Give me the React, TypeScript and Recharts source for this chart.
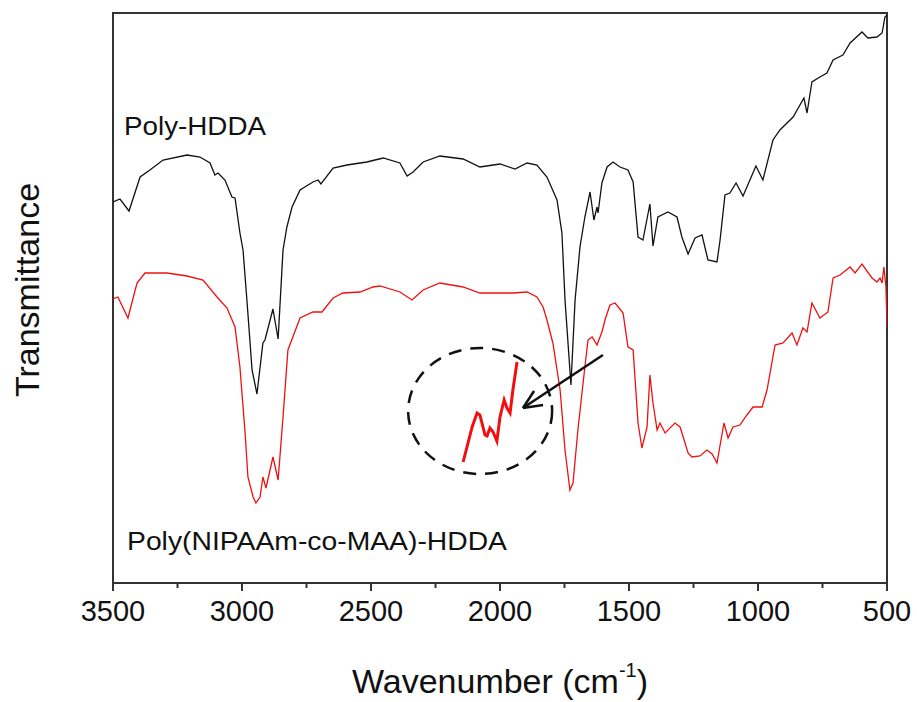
import {
  Line,
  LineChart,
  ReferenceArea,
  ReferenceDot,
  ReferenceLine,
  XAxis,
  YAxis,
} from "recharts";

// wavenumber (cm-1) and transmittance (arbitrary units)
const hddaWavenumber = [
  3500, 3473, 3438, 3395, 3357, 3306, 3213, 3163, 3124, 3105, 3093, 3066, 3039, 3027, 3008, 2996,
  2981, 2961, 2942, 2919, 2911, 2880, 2860, 2841, 2826, 2806, 2775, 2725, 2705, 2694, 2647, 2593,
  2516, 2453, 2388, 2360, 2337, 2298, 2233, 2143, 2078, 2000, 1942, 1895, 1857, 1818, 1779, 1760,
  1748, 1725, 1709, 1690, 1671, 1651, 1636, 1624, 1620, 1605, 1585, 1562, 1535, 1504, 1484, 1465,
  1446, 1419, 1407, 1388, 1349, 1314, 1295, 1271, 1244, 1217, 1194, 1159, 1147, 1128, 1109, 1085,
  1058, 1008, 981, 942, 915, 864, 822, 810, 791, 760, 733, 709, 671, 643, 597, 574, 539, 519, 508, 500,
];
const hddaT = [
  381, 384, 372, 406, 413, 423, 428, 426, 420, 408, 410, 403, 386, 385, 350, 333,
  283, 213, 189, 240, 243, 274, 244, 333, 356, 376, 393, 401, 403, 399, 415, 418,
  421, 425, 420, 407, 411, 421, 427, 424, 416, 419, 414, 420, 418, 406, 383, 350,
  283, 198, 283, 336, 366, 391, 363, 376, 370, 400, 416, 421, 416, 413, 401, 346,
  343, 379, 337, 366, 371, 366, 346, 329, 345, 348, 323, 321, 343, 388, 390, 400,
  387, 417, 403, 443, 453, 466, 485, 470, 501, 506, 510, 523, 528, 540, 551, 545, 546, 550, 566, 568,
];

const copolyWavenumber = [
  3500, 3481, 3442, 3407, 3376, 3291, 3213, 3151, 3097, 3058, 3027, 3008, 2988, 2977, 2957, 2946,
  2930, 2919, 2907, 2880, 2860, 2841, 2822, 2775, 2725, 2690, 2647, 2609, 2543, 2492, 2465, 2388,
  2341, 2298, 2233, 2143, 2078, 1950, 1895, 1857, 1833, 1818, 1795, 1767, 1748, 1729, 1717, 1698,
  1678, 1659, 1643, 1624, 1605, 1593, 1574, 1554, 1523, 1504, 1484, 1465, 1450, 1430, 1419, 1407,
  1391, 1380, 1360, 1322, 1302, 1271, 1256, 1225, 1198, 1178, 1159, 1132, 1116, 1097, 1070, 1043,
  1019, 984, 965, 934, 903, 868, 849, 826, 810, 791, 760, 729, 709, 682, 643, 624, 597, 558, 539,
  527, 519, 512, 504, 500,
];
const copolyT = [
  284, 286, 265, 300, 310, 310, 307, 303, 286, 275, 256, 216, 150, 106, 86, 80,
  86, 106, 95, 126, 103, 166, 233, 265, 271, 271, 285, 290, 291, 296, 297, 291,
  283, 293, 300, 296, 290, 290, 291, 286, 276, 263, 240, 193, 133, 93, 100, 153,
  200, 243, 246, 238, 251, 263, 278, 280, 270, 236, 233, 160, 135, 156, 208, 180,
  153, 160, 150, 160, 156, 130, 126, 127, 133, 129, 120, 160, 145, 156, 158, 168,
  176, 176, 193, 238, 240, 250, 238, 255, 251, 280, 265, 271, 305, 308, 316, 310, 319, 305, 301,
  305, 300, 316, 296, 256,
];

// magnified piece of the copolymer trace inside the dashed circle
const insetWavenumber = [2143, 2108, 2089, 2078, 2058, 2050, 2039, 2027, 2012, 2000, 1984, 1973, 1961, 1950, 1934];
const insetT = [121, 156, 170, 168, 148, 147, 155, 151, 142, 166, 183, 175, 170, 193, 221];

const xTicks = [3500, 3250, 3000, 2750, 2500, 2250, 2000, 1750, 1500, 1250, 1000, 750, 500];

const hddaData = hddaWavenumber.map((w, i) => ({ w, t: hddaT[i] }));
const copolyData = copolyWavenumber.map((w, i) => ({ w, t: copolyT[i] }));
const insetData = insetWavenumber.map((w, i) => ({ w, t: insetT[i] }));

const FONT = "Arial, 'Liberation Sans', sans-serif";
const INK = "#111";

function WaveTick({ x, y, payload }: { x: number; y: number; payload: { value: number } }) {
  const major = payload.value % 500 === 0;
  return (
    <g>
      <line x1={x} x2={x} y1={y} y2={y + (major ? 8 : 5)} stroke="#333" strokeWidth={2} />
      {major && (
        <text x={x} y={y + 38} textAnchor="middle" fontSize={29} fontFamily={FONT} fill={INK}>
          {payload.value}
        </text>
      )}
    </g>
  );
}

export default function App() {
  return (
    <div style={{ position: "absolute", left: 0, top: 0, width: 917, height: 702, background: "#fff" }}>
      <LineChart
        width={917}
        height={702}
        margin={{ top: 13, right: 30, left: 113, bottom: 59 }}
      >
        <XAxis
          dataKey="w"
          type="number"
          domain={[500, 3500]}
          reversed
          ticks={xTicks}
          interval={0}
          tick={WaveTick}
          tickLine={false}
          tickSize={0}
          tickMargin={0}
          axisLine={{ stroke: "#333", strokeWidth: 2 }}
          height={60}
          allowDataOverflow
        />
        <YAxis type="number" domain={[0, 570]} hide allowDataOverflow />
        <ReferenceArea
          x1={3500}
          x2={500}
          y1={0}
          y2={570}
          fill="none"
          stroke="#333"
          strokeWidth={2}
          ifOverflow="visible"
        />
        <Line
          data={hddaData}
          dataKey="t"
          type="linear"
          stroke={INK}
          strokeWidth={1.3}
          dot={false}
          isAnimationActive={false}
        />
        <Line
          data={copolyData}
          dataKey="t"
          type="linear"
          stroke="#f01010"
          strokeWidth={1.3}
          dot={false}
          isAnimationActive={false}
        />
        <Line
          data={insetData}
          dataKey="t"
          type="linear"
          stroke="#f01010"
          strokeWidth={3}
          dot={false}
          isAnimationActive={false}
        />
        <ReferenceDot
          x={2077}
          y={172}
          ifOverflow="visible"
          shape={(p: { cx: number; cy: number }) => (
            <ellipse
              cx={p.cx}
              cy={p.cy}
              rx={72}
              ry={63}
              fill="none"
              stroke={INK}
              strokeWidth={2.5}
              strokeDasharray="13 9"
            />
          )}
        />
        <ReferenceLine segment={[{ x: 1601, y: 228 }, { x: 1911, y: 175 }]} stroke={INK} strokeWidth={2.5} />
        <ReferenceLine segment={[{ x: 1911, y: 175 }, { x: 1833, y: 178 }]} stroke={INK} strokeWidth={2.5} />
        <ReferenceLine segment={[{ x: 1911, y: 175 }, { x: 1868, y: 192 }]} stroke={INK} strokeWidth={2.5} />
      </LineChart>
      <svg
        width={917}
        height={702}
        style={{ position: "absolute", left: 0, top: 0, pointerEvents: "none" }}
        fontFamily={FONT}
        fill={INK}
      >
        <text x={124} y={135} fontSize={25} textLength={142} lengthAdjust="spacingAndGlyphs">
          Poly-HDDA
        </text>
        <text x={127} y={550} fontSize={25} textLength={380} lengthAdjust="spacingAndGlyphs">
          Poly(NIPAAm-co-MAA)-HDDA
        </text>
        <text
          x={0}
          y={0}
          fontSize={34}
          textAnchor="middle"
          transform="translate(39 290) rotate(-90)"
        >
          Transmittance
        </text>
        <text x={500} y={693} fontSize={34} textAnchor="middle">
          Wavenumber (cm
          <tspan fontSize={20} dy={-16}>-1</tspan>
          <tspan dy={16}>)</tspan>
        </text>
      </svg>
    </div>
  );
}
